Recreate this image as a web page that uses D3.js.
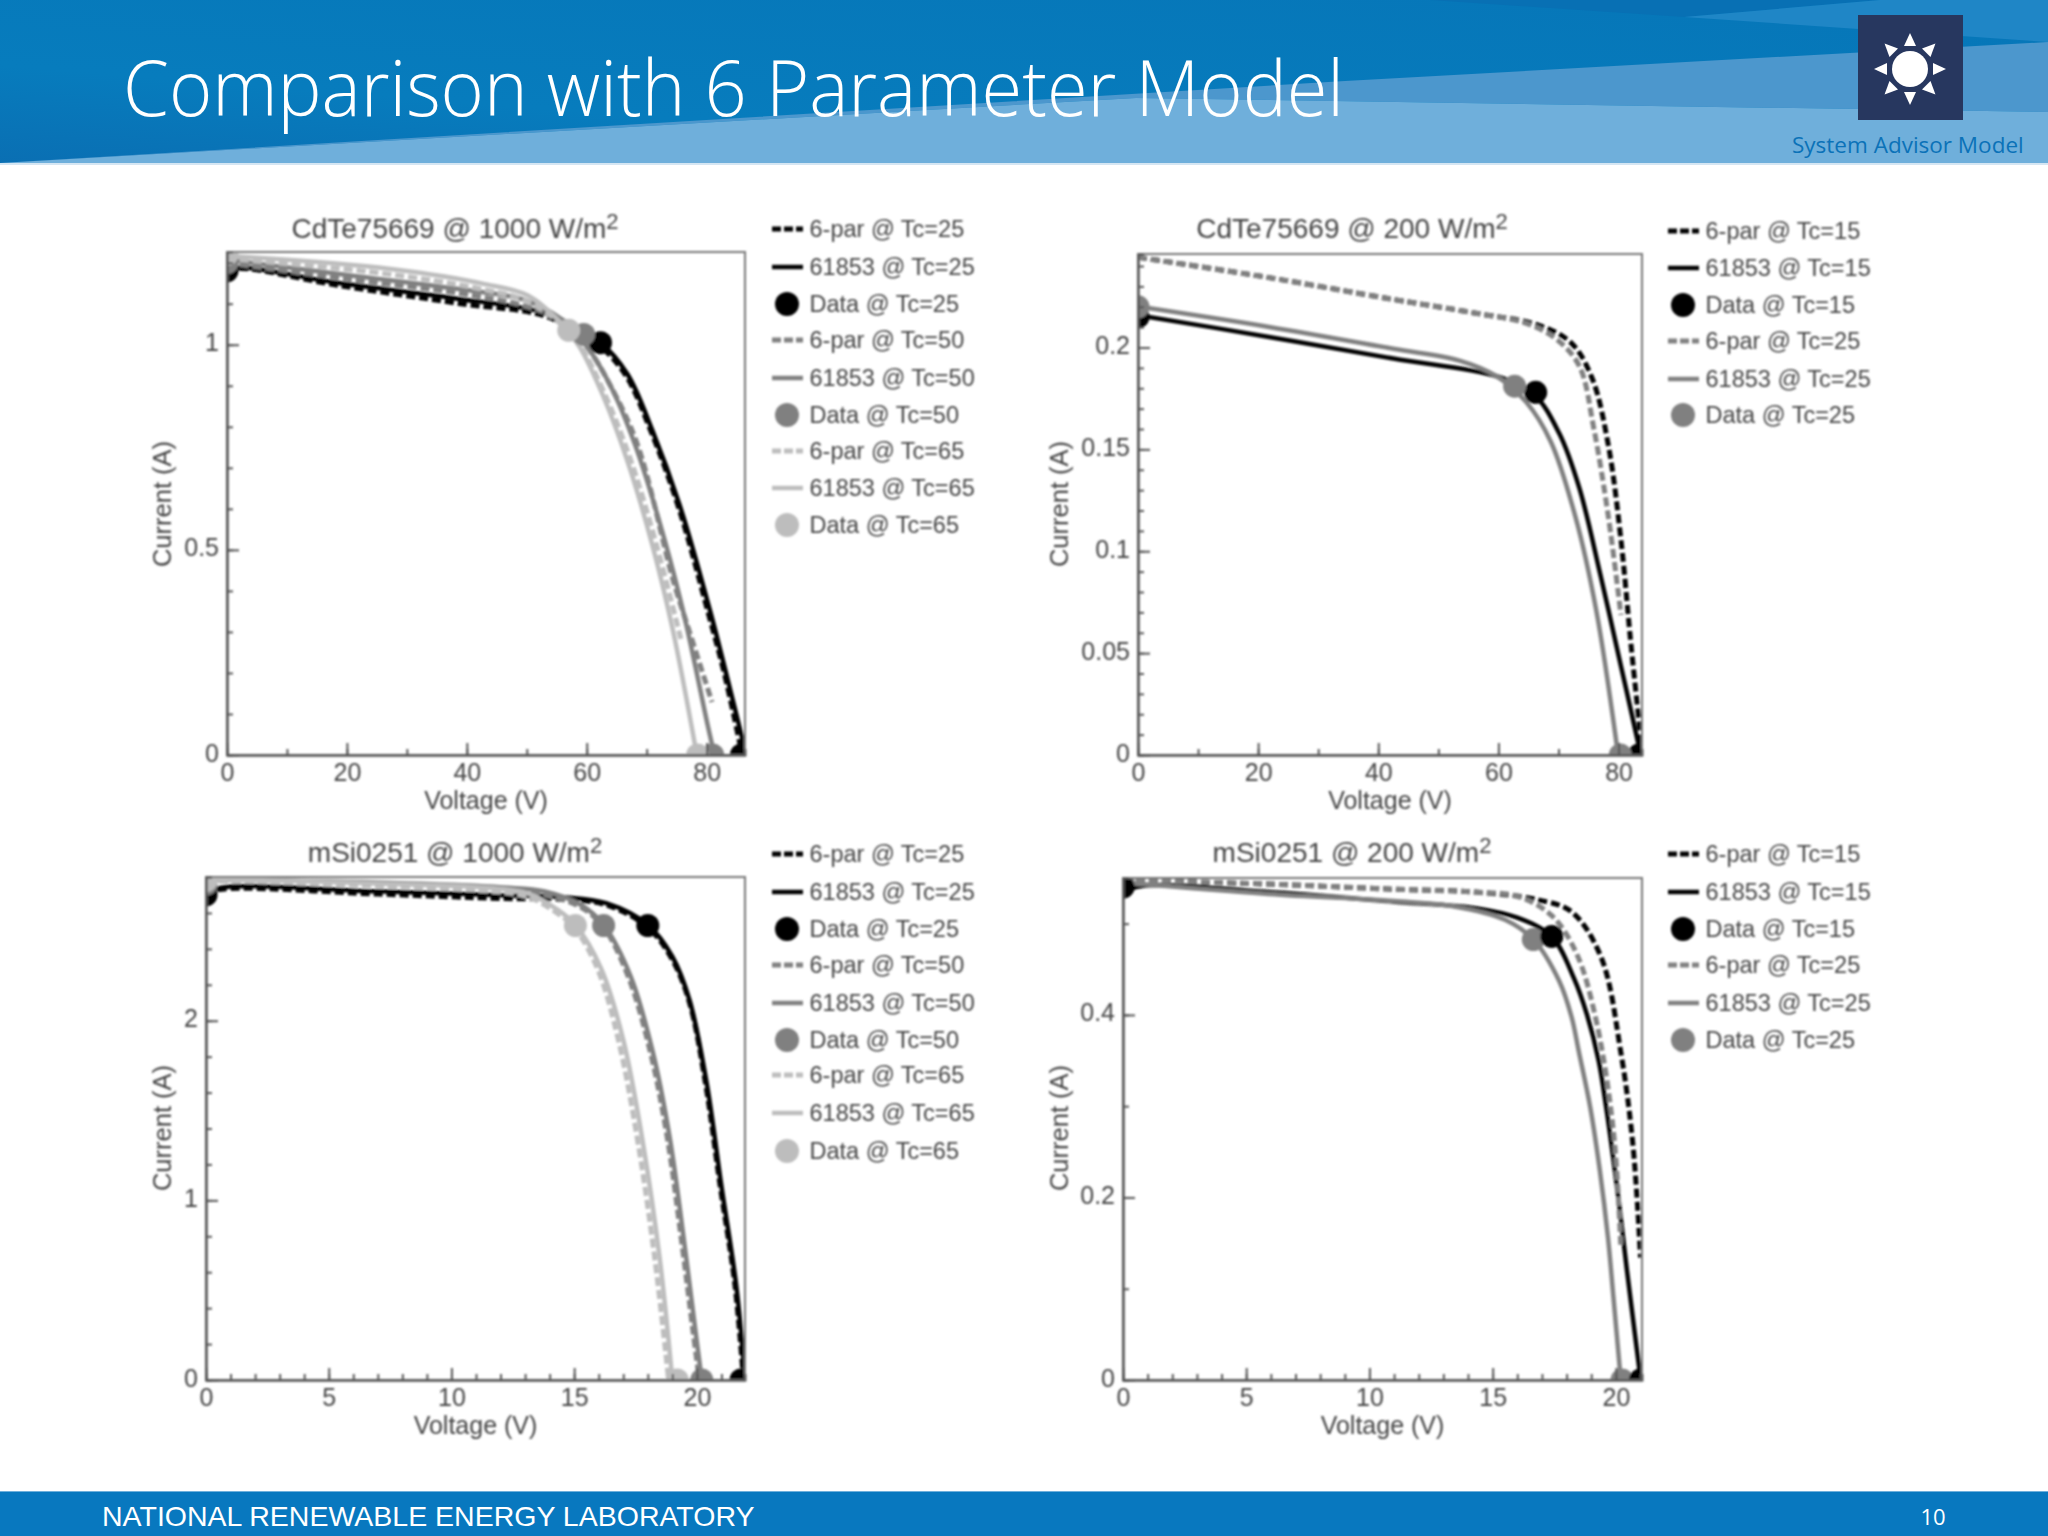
<!DOCTYPE html>
<html>
<head>
<meta charset="utf-8">
<script src="https://cdn.jsdelivr.net/npm/d3@7"></script>
<style>
  html, body { margin: 0; padding: 0; background: #fff; }
  svg { display: block; }
  text { font-family: "Liberation Sans", Arial, sans-serif; }
</style>
</head>
<body>
<svg id="slide" width="2048" height="1536"></svg>
<script>
// [voltage, current]
const cdte1000_model25 = [[0,1.178],[0.8,1.18],[2.1,1.188],[18.4,1.151],[39,1.111],[53,1.077],[62.3,1.005],[66.8,0.928],[70.9,0.793],[75.7,0.6],[80.6,0.35],[83.3,0.196],[86.4,0.013]];
const cdte1000_par25 = [[0,1.178],[2.1,1.186],[18.4,1.145],[39,1.1],[53,1.07],[61.5,1.005],[66.4,0.928],[70.6,0.793],[75.4,0.6],[80.2,0.35],[83,0.196],[85.8,0.01]];
const cdte1000_model50 = [[0,1.207],[20,1.17],[39,1.135],[49.5,1.11],[55.7,1.063],[59.8,1.0],[64,0.899],[68.1,0.755],[73,0.524],[76.4,0.331],[80.2,0.071],[81.3,0]];
const cdte1000_par50 = [[0,1.2],[20,1.16],[39,1.125],[49.5,1.095],[55.7,1.06],[59.8,1.0],[64,0.899],[68.5,0.755],[74.4,0.427],[77.1,0.302],[80.9,0.129]];
const cdte1000_model65 = [[0,1.217],[25.3,1.188],[42.6,1.149],[50.2,1.12],[55.7,1.053],[58.8,0.995],[62.6,0.88],[66.8,0.716],[70.9,0.514],[74.4,0.302],[78.2,0.013]];
const cdte1000_par65 = [[0,1.21],[25.3,1.175],[42.6,1.135],[50.2,1.105],[55.7,1.05],[59,0.995],[63,0.88],[67.4,0.716],[71.6,0.514],[75.7,0.283]];
const cdte1000_dots = [[25,62.3,1.005],[25,85.8,0],[25,0,1.18],[50,59.5,1.025],[50,81,0],[50,0,1.2],[65,57,1.035],[65,78.5,0],[65,0,1.22]];

const cdte200_model15 = [[0,0.2159],[21.8,0.2052],[42.5,0.1946],[59.7,0.1859],[65.9,0.177],[70.1,0.158],[73.5,0.1307],[77,0.0881],[80.4,0.0436],[83.2,0.0068],[83.7,0]];
const cdte200_par15 = [[0,0.2443],[21.8,0.2343],[42.5,0.2236],[56.3,0.2168],[66.6,0.211],[72.1,0.2023],[75.6,0.1849],[78.3,0.152],[80.4,0.1055],[82.1,0.0532],[83.9,0.003]];
const cdte200_model25 = [[0,0.2201],[21.8,0.2101],[42.5,0.1994],[53.5,0.1936],[59.7,0.1859],[64.6,0.1733],[68.7,0.1539],[72.8,0.1171],[76.3,0.0707],[79.7,0.0048],[79.9,0]];
const cdte200_par25 = [[0,0.2443],[21.8,0.2343],[42.5,0.2236],[56.3,0.2168],[65,0.2115],[70,0.2033],[73.5,0.1907],[75.9,0.16],[78.3,0.117],[80.4,0.0687]];
const cdte200_dots = [[15,66.2,0.178],[15,83.4,0],[15,0,0.215],[25,62.7,0.181],[25,80.3,0],[25,0,0.22]];

const msi1000_model25 = [[0,2.698],[0.52,2.738],[7,2.72],[12.1,2.698],[14.6,2.687],[16.3,2.654],[18,2.533],[19,2.357],[19.7,2.115],[20.4,1.652],[21,1.079],[21.6,0.529],[21.96,0.01]];
const msi1000_par25 = [[0,2.7],[0.52,2.73],[7,2.705],[12.1,2.68],[14.6,2.675],[16.3,2.645],[18,2.52],[19,2.34],[19.7,2.1],[20.35,1.652],[20.95,1.079],[21.55,0.529],[21.9,0]];
const msi1000_model50 = [[0,2.786],[7,2.77],[12.1,2.742],[13.8,2.72],[15.3,2.643],[16.2,2.533],[17.3,2.247],[18.2,1.828],[18.9,1.344],[19.5,0.749],[19.95,0.264],[20.2,0]];
const msi1000_par50 = [[0,2.78],[7,2.755],[12.1,2.72],[13.8,2.7],[15.3,2.63],[16.2,2.52],[17.2,2.247],[18.1,1.828],[18.8,1.344],[19.4,0.749],[19.85,0.264],[20.1,0]];
const msi1000_model65 = [[0,2.79],[7,2.764],[11.25,2.742],[13.1,2.709],[14.3,2.62],[15.05,2.533],[16.1,2.29],[17,1.894],[17.8,1.322],[18.5,0.661],[19,0]];
const msi1000_par65 = [[0,2.785],[7,2.75],[11.25,2.725],[13.1,2.69],[14.3,2.6],[15,2.52],[15.95,2.29],[16.8,1.894],[17.6,1.322],[18.3,0.661],[18.85,0]];
const msi1000_dots = [[25,18,2.53],[25,21.8,0],[25,0,2.7],[50,16.2,2.53],[50,20.2,0],[50,0,2.76],[65,15.05,2.53],[65,19.2,0],[65,0,2.78]];

const msi200_model15 = [[0,0.53],[0.52,0.54],[5.9,0.5346],[11,0.524],[14.3,0.517],[16,0.5065],[17.4,0.4857],[18.3,0.44],[18.83,0.4],[19.3,0.35],[19.6,0.3],[20.1,0.2],[20.45,0.12],[20.75,0.055],[21,0.002]];
const msi200_par15 = [[0,0.5476],[5.9,0.5433],[11,0.5377],[14.3,0.5346],[16.85,0.526],[18.2,0.513],[19.4,0.4632],[20.2,0.3593],[20.7,0.2554],[21,0.1342]];
const msi200_model25 = [[0,0.545],[5.9,0.5325],[11,0.5247],[13.5,0.5186],[15.5,0.5043],[16.65,0.4827],[17.7,0.4372],[18.2,0.398],[18.5,0.3593],[18.96,0.2987],[19.35,0.2294],[19.68,0.156],[19.9,0.0909],[20.2,0]];
const msi200_par25 = [[0,0.5476],[5.9,0.5433],[11,0.5377],[14.3,0.5346],[16,0.53],[17.4,0.5087],[18.4,0.4675],[19.2,0.394],[19.9,0.2727],[20.2,0.1472]];
const msi200_dots = [[25,16.65,0.4825],[25,20.25,0],[25,0,0.545],[15,17.4,0.486],[15,21,0],[15,0,0.54]];

const tempsThree = [25, 50, 65];
const tempsTwo = [15, 25];
const legendKinds = ['6-par', '61853', 'Data'];
const greys = {15: '#000', 25: '#000', 50: '#808080', 65: '#bdbdbd'};
const greysLow = {15: '#000', 25: '#808080'};

// the library needs one table per panel, everything else stays in the arrays above
const panels = [
    {
        name: 'CdTe75669', irr: '1000', temps: tempsThree, colors: greys,
        box: {left: 227, right: 745, top: 252, bottom: 755},
        xMax: 86.4, yMax: 1.226, xMajor: [0, 20, 40, 60, 80], xStep: 10,
        yMajor: [0, 0.5, 1], yStep: 0.1, yFmt: d => d,
        titleY: 238, titleX: 455, labelX: 171, labelY: 504, legendX: 772,
        legendY: [229, 267, 304, 340, 378, 415, 451, 488, 525],
        par: [cdte1000_par25, cdte1000_par50, cdte1000_par65],
        model: [cdte1000_model25, cdte1000_model50, cdte1000_model65],
        dots: cdte1000_dots,
    },
    {
        name: 'CdTe75669', irr: '200', temps: tempsTwo, colors: greysLow,
        box: {left: 1138, right: 1642, top: 254, bottom: 755},
        xMax: 83.9, yMax: 0.2459, xMajor: [0, 20, 40, 60, 80], xStep: 10,
        yMajor: [0, 0.05, 0.1, 0.15, 0.2], yStep: 0.01, yFmt: d => d,
        titleY: 238, titleX: 1352, labelX: 1068, labelY: 504, legendX: 1668,
        legendY: [231, 268, 305, 341, 379, 415],
        par: [cdte200_par15, cdte200_par25],
        model: [cdte200_model15, cdte200_model25],
        dots: cdte200_dots,
    },
    {
        name: 'mSi0251', irr: '1000', temps: tempsThree, colors: greys,
        box: {left: 206, right: 745, top: 877, bottom: 1380},
        xMax: 21.96, yMax: 2.8, xMajor: [0, 5, 10, 15, 20], xStep: 1,
        yMajor: [0, 1, 2], yStep: 0.2, yFmt: d => d,
        titleY: 862, titleX: 455, labelX: 171, labelY: 1128, legendX: 772,
        legendY: [854, 892, 929, 965, 1003, 1040, 1075, 1113, 1151],
        par: [msi1000_par25, msi1000_par50, msi1000_par65],
        model: [msi1000_model25, msi1000_model50, msi1000_model65],
        dots: msi1000_dots,
    },
    {
        name: 'mSi0251', irr: '200', temps: tempsTwo, colors: greysLow,
        box: {left: 1123, right: 1642, top: 878, bottom: 1380},
        xMax: 21.06, yMax: 0.55, xMajor: [0, 5, 10, 15, 20], xStep: 1,
        yMajor: [0, 0.2, 0.4], yStep: 0.1, yFmt: d => d,
        titleY: 862, titleX: 1352, labelX: 1068, labelY: 1128, legendX: 1668,
        legendY: [854, 892, 929, 965, 1003, 1040],
        par: [msi200_par15, msi200_par25],
        model: [msi200_model15, msi200_model25],
        dots: msi200_dots,
    },
];

const svg = d3.select('#slide');
const defs = svg.append('defs');

defs.append('filter').attr('id', 'soft')
    .append('feGaussianBlur').attr('stdDeviation', 0.8);

svg.append('rect').attr('width', 2048).attr('height', 1536).attr('fill', '#fff');

// header bands
const header = svg.append('g');
const headerGrad = defs.append('linearGradient').attr('id', 'headerBase')
    .attr('x1', 0).attr('x2', 1).attr('y1', 1).attr('y2', 0);
headerGrad.append('stop').attr('offset', 0).attr('stop-color', '#0a6fb3');
headerGrad.append('stop').attr('offset', 0.3).attr('stop-color', '#077cbd');
headerGrad.append('stop').attr('offset', 1).attr('stop-color', '#0676b8');
header.append('rect').attr('width', 2048).attr('height', 163).attr('fill', 'url(#headerBase)');

const bands = [
    {fill: '#0870b4', pts: [[1430, 0], [1880, 0], [1684, 17]]},
    {fill: '#1f86c6', pts: [[1684, 17], [1880, 0], [2048, 0], [2048, 42]]},
    {fill: '#4c97cd', pts: [[0, 163], [1345, 81], [2048, 42], [2048, 112], [1136, 98]]},
    {fill: '#6fafdb', pts: [[0, 163], [1136, 98], [2048, 112], [2048, 163]]},
];
header.selectAll('polygon').data(bands).join('polygon')
    .attr('points', d => d.pts.join(' '))
    .attr('fill', d => d.fill);
header.append('rect').attr('y', 163).attr('width', 2048).attr('height', 2).attr('fill', '#d5e6f3');

header.append('text').text('Comparison with 6 Parameter Model')
    .attr('x', 123).attr('y', 116)
    .attr('textLength', 1221).attr('lengthAdjust', 'spacingAndGlyphs')
    .style('font-family', '"Open Sans", sans-serif').style('font-weight', 300)
    .attr('font-size', 78).attr('fill', '#fff');

// logo
const logo = svg.append('g');
logo.append('rect').attr('x', 1858).attr('y', 15).attr('width', 105).attr('height', 105).attr('fill', '#27375f');
const sun = logo.append('g').attr('transform', 'translate(1910,69)');
sun.append('circle').attr('r', 18).attr('fill', '#fff');
sun.selectAll('path').data(d3.range(8)).join('path')
    .attr('d', 'M-6,-23 L6,-23 L0,-36 Z')
    .attr('transform', d => `rotate(${d * 45})`)
    .attr('fill', '#fff');
svg.append('text').text('System Advisor Model')
    .attr('x', 1792).attr('y', 153)
    .style('font-family', '"Open Sans", sans-serif')
    .attr('font-size', 22.5).attr('fill', '#0b72b8');

// footer
svg.append('rect').attr('y', 1491).attr('width', 2048).attr('height', 45).attr('fill', '#0878bf');
svg.append('rect').attr('y', 1491).attr('width', 2048).attr('height', 1).attr('fill', '#6fb0dc');
svg.append('text').text('NATIONAL RENEWABLE ENERGY LABORATORY')
    .attr('x', 102).attr('y', 1526)
    .attr('font-size', 28.5).attr('fill', '#fff');
svg.append('text').text('10')
    .attr('x', 1933).attr('y', 1525).attr('text-anchor', 'middle')
    .style('font-family', '"Open Sans", sans-serif')
    .attr('font-size', 22).attr('fill', '#fff');

function ticksFrom(max, step) {
    const out = [];
    for (let i = 0; i * step <= max + 1e-9; i++) out.push(+(i * step).toFixed(3));
    return out;
}

function drawLegend(g, p) {
    const rows = [];
    p.temps.forEach(t => legendKinds.forEach(kind => rows.push({t, kind})));
    const row = g.selectAll('.row').data(rows).join('g')
        .attr('class', 'row')
        .attr('transform', (d, i) => `translate(${p.legendX},${p.legendY[i]})`);
    row.append('text')
        .text(d => `${d.kind} @ Tc=${d.t}`)
        .attr('x', 37.5).attr('dy', '.36em')
        .attr('font-size', 23.5).attr('fill', '#444');
    row.filter(d => d.kind !== 'Data').append('line')
        .attr('x1', 0).attr('x2', 31)
        .attr('stroke', d => p.colors[d.t])
        .attr('stroke-width', d => d.kind === '6-par' ? 5 : 4.5)
        .attr('stroke-dasharray', d => d.kind === '6-par' ? '9 3' : null);
    row.filter(d => d.kind === 'Data').append('circle')
        .attr('cx', 15).attr('r', 12)
        .attr('fill', d => p.colors[d.t]);
}

panels.forEach((p, i) => {
    const g = svg.append('g').attr('filter', 'url(#soft)');
    const {left, right, top, bottom} = p.box;
    const x = d3.scaleLinear().domain([0, p.xMax]).range([left, right]);
    const y = d3.scaleLinear().domain([0, p.yMax]).range([bottom, top]);

    defs.append('clipPath').attr('id', `plot${i}`)
        .append('rect').attr('x', left).attr('y', top)
        .attr('width', right - left).attr('height', bottom - top);

    // curves and points, clipped by the frame like the source plot
    const plot = g.append('g').attr('clip-path', `url(#plot${i})`);
    const line = d3.line().x(d => x(d[0])).y(d => y(d[1])).curve(d3.curveCatmullRom.alpha(0.5));
    const curves = [];
    p.temps.forEach((t, k) => {
        curves.push({t, data: p.par[k], dashed: true});
        curves.push({t, data: p.model[k], dashed: false});
    });
    plot.selectAll('path').data(curves).join('path')
        .attr('d', d => line(d.data))
        .attr('fill', 'none')
        .attr('stroke', d => p.colors[d.t])
        .attr('stroke-width', d => d.dashed ? 5 : 4.5)
        .attr('stroke-dasharray', d => d.dashed ? '9 4' : null);
    plot.selectAll('circle').data(p.dots).join('circle')
        .attr('cx', d => x(d[1])).attr('cy', d => y(d[2])).attr('r', 11.5)
        .attr('fill', d => p.colors[d[0]]);

    // frame
    g.append('rect').attr('x', left).attr('y', top)
        .attr('width', right - left).attr('height', bottom - top)
        .attr('fill', 'none').attr('stroke', '#777').attr('stroke-width', 2);

    // minor then major ticks, both pointing into the plot
    const axes = g.append('g');
    axes.append('g').attr('transform', `translate(0,${bottom})`)
        .call(d3.axisBottom(x).tickValues(ticksFrom(p.xMax, p.xStep)).tickSize(-6).tickFormat(''));
    axes.append('g').attr('transform', `translate(${left},0)`)
        .call(d3.axisLeft(y).tickValues(ticksFrom(p.yMax, p.yStep)).tickSize(-6).tickFormat(''));
    axes.append('g').attr('transform', `translate(0,${bottom})`)
        .call(d3.axisBottom(x).tickValues(p.xMajor).tickSizeInner(-12).tickSizeOuter(0).tickPadding(8));
    const yAxis = axes.append('g').attr('transform', `translate(${left},0)`)
        .call(d3.axisLeft(y).tickValues(p.yMajor).tickSizeInner(-12).tickSizeOuter(0).tickPadding(8).tickFormat(p.yFmt));
    yAxis.selectAll('.tick text').attr('y', -2);
    axes.selectAll('.domain').attr('stroke', '#555').attr('stroke-width', 2);
    axes.selectAll('.tick line').attr('stroke', '#555').attr('stroke-width', 2);
    axes.selectAll('.tick text')
        .attr('fill', '#444')
        .style('font-family', '"Liberation Sans", Arial, sans-serif')
        .style('font-size', '25px');

    // titles
    const title = g.append('text')
        .attr('x', p.titleX).attr('y', p.titleY).attr('text-anchor', 'middle')
        .attr('font-size', 28).attr('fill', '#444')
        .text(`${p.name} @ ${p.irr} W/m`);
    title.append('tspan').attr('dy', -9).attr('font-size', 22).text('2');

    g.append('text').text('Voltage (V)')
        .attr('x', (left + right) / 2).attr('y', bottom + 54).attr('text-anchor', 'middle')
        .attr('font-size', 25).attr('fill', '#444');
    g.append('text').text('Current (A)')
        .attr('transform', `translate(${p.labelX},${p.labelY}) rotate(-90)`)
        .attr('text-anchor', 'middle')
        .attr('font-size', 25.5).attr('fill', '#444');

    drawLegend(g, p);
});
</script>
</body>
</html>
